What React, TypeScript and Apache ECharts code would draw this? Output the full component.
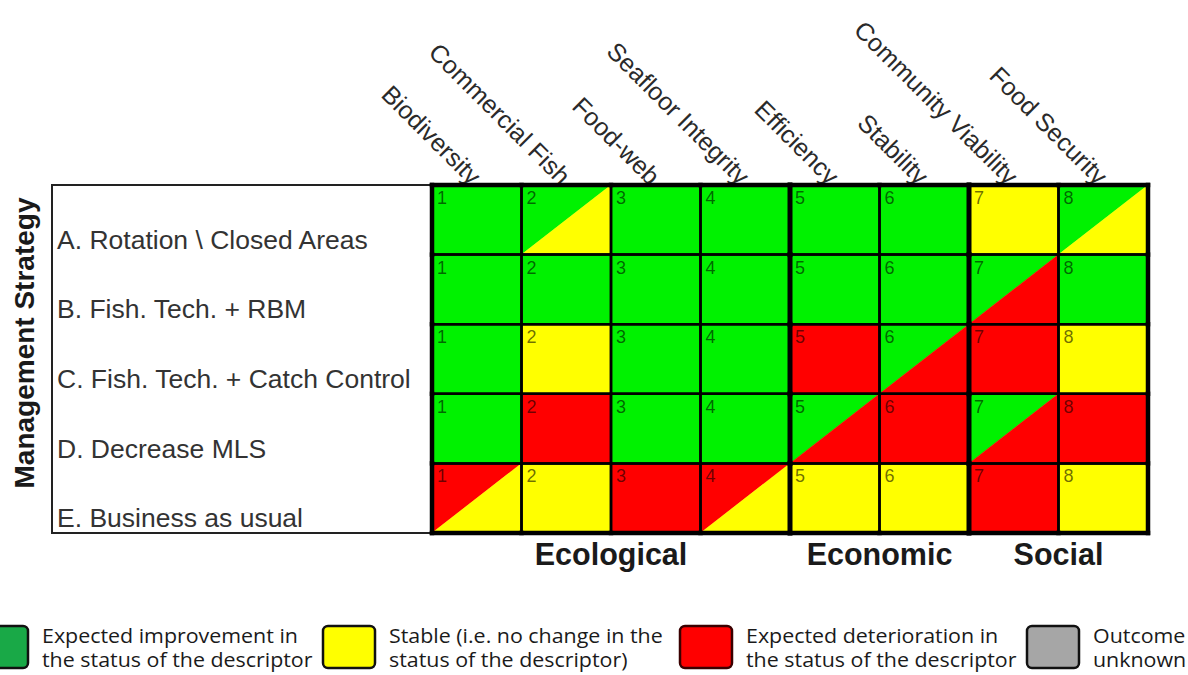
import React, { useEffect, useRef } from "react";
import * as echarts from "echarts";

// ---------- data ----------
const descriptors = [
  "Biodiversity",
  "Commercial Fish",
  "Food-web",
  "Seafloor Integrity",
  "Efficiency",
  "Stability",
  "Community Viability",
  "Food Security",
];

const strategies = [
  "A. Rotation \\ Closed Areas",
  "B. Fish. Tech. + RBM",
  "C. Fish. Tech. + Catch Control",
  "D. Decrease MLS",
  "E. Business as usual",
];

// outcome per cell: "G" improvement, "Y" stable, "R" deterioration, "N" unknown
// "X/Z" = upper-left triangle X, lower-right triangle Z
const rowA = ["G", "G/Y", "G", "G", "G", "G", "Y", "G/Y"];
const rowB = ["G", "G", "G", "G", "G", "G", "G/R", "G"];
const rowC = ["G", "Y", "G", "G", "R", "G/R", "R", "Y"];
const rowD = ["G", "R", "G", "G", "G/R", "R", "G/R", "R"];
const rowE = ["R/Y", "Y", "R", "R/Y", "Y", "Y", "R", "Y"];
const outcomeRows = [rowA, rowB, rowC, rowD, rowE];

const groupNames = ["Ecological", "Economic", "Social"];
const groupCenters = [2, 5, 7];
const groupBoundaries = [4, 6];

const legendLine1 = [
  "Expected improvement in",
  "Stable (i.e. no change in the",
  "Expected deterioration in",
  "Outcome",
];
const legendLine2 = [
  "the status of the descriptor",
  "status of the descriptor)",
  "the status of the descriptor",
  "unknown",
];

// ---------- styles ----------
const cellColors: Record<string, string> = {
  G: "#00f200",
  Y: "#ffff00",
  R: "#ff0000",
  N: "#a6a6a6",
};
const legendColors = ["#19a947", "#ffff00", "#ff0000", "#a6a6a6"];
const legendX = [-24, 323, 680, 1027];
const FONT = "'Liberation Sans', Arial, sans-serif";

const GRID = { left: 432, right: 40, top: 185, bottom: 142 };

export default function App() {
  const ref = useRef<HTMLDivElement>(null);

  useEffect(() => {
    if (!ref.current) return;
    const chart = echarts.init(ref.current, undefined, { renderer: "svg" });

    const cellData: number[][] = [];
    const cellCodes: string[] = [];
    outcomeRows.forEach((row, r) =>
      row.forEach((code, c) => {
        cellData.push([c, r]);
        cellCodes.push(code);
      })
    );

    const renderItem = (params: any, api: any) => {
      const col = api.value(0);
      const row = api.value(1);
      const center = api.coord([col, row]);
      const size = api.size([1, 1]);
      const x0 = center[0] - size[0] / 2;
      const x1 = center[0] + size[0] / 2;
      const y0 = center[1] - size[1] / 2;
      const y1 = center[1] + size[1] / 2;
      const code = cellCodes[params.dataIndex];
      const parts = code.split("/");
      const children: any[] = [];
      if (parts.length === 1) {
        children.push({
          type: "rect",
          z2: 0,
          shape: { x: x0, y: y0, width: x1 - x0, height: y1 - y0 },
          style: { fill: cellColors[parts[0]] },
        });
      } else {
        children.push({
          type: "polygon",
          z2: 0,
          shape: { points: [[x0, y0], [x1, y0], [x0, y1]] },
          style: { fill: cellColors[parts[0]], stroke: cellColors[parts[0]], lineWidth: 0.5 },
        });
        children.push({
          type: "polygon",
          z2: 0,
          shape: { points: [[x1, y0], [x1, y1], [x0, y1]] },
          style: { fill: cellColors[parts[1]], stroke: cellColors[parts[1]], lineWidth: 0.5 },
        });
      }
      children.push({
        type: "rect",
        z2: 1,
        shape: { x: x0, y: y0, width: x1 - x0, height: y1 - y0 },
        style: { fill: "none", stroke: "#000", lineWidth: 2.5 },
      });
      const thick = (xa: number, ya: number, xb: number, yb: number, w: number) =>
        children.push({
          type: "line",
          z2: 2,
          shape: { x1: xa, y1: ya, x2: xb, y2: yb },
          style: { stroke: "#000", lineWidth: w, lineCap: "square" },
        });
      if (col === 0) thick(x0, y0, x0, y1, 4.5);
      if (col === descriptors.length - 1) thick(x1, y0, x1, y1, 4.5);
      if (groupBoundaries.indexOf(col + 1) >= 0) thick(x1, y0, x1, y1, 5);
      if (row === 0) thick(x0, y0, x1, y0, 4.5);
      if (row === strategies.length - 1) thick(x0, y1, x1, y1, 4.5);
      children.push({
        type: "text",
        z2: 3,
        x: x0 + 5,
        y: y0 + 4,
        style: {
          text: String(col + 1),
          fontSize: 18,
          fontFamily: FONT,
          fill: "rgba(0,0,0,0.58)",
          align: "left",
          verticalAlign: "top",
        },
      });
      return { type: "group", children };
    };

    const legendGraphics: any[] = [];
    legendLine1.forEach((line, i) => {
      legendGraphics.push({
        type: "rect",
        shape: { x: legendX[i], y: 626, width: 52, height: 42, r: 5 },
        style: { fill: legendColors[i], stroke: i === 2 ? "#3a0000" : "#111", lineWidth: 2.5 },
      });
      [line, legendLine2[i]].forEach((t, k) =>
        legendGraphics.push({
          type: "text",
          x: legendX[i] + 66,
          y: 635 + k * 24,
          scaleX: 1.07,
          style: {
            text: t,
            fontSize: 20,
            fontFamily: "'Open Sans', sans-serif",
            fill: "#1a1a1a",
            align: "left",
            verticalAlign: "middle",
          },
        })
      );
    });

    const option: any = {
      animation: false,
      backgroundColor: "#ffffff",
      grid: { ...GRID, containLabel: false, outerBoundsMode: "none" },
      xAxis: [
        {
          type: "category",
          position: "top",
          data: descriptors,
          axisLine: { show: false },
          axisTick: { show: false },
          splitLine: { show: false },
          axisLabel: {
            interval: 0,
            rotate: 45,
            margin: 5,
            fontSize: 25,
            fontFamily: FONT,
            color: "#2a2a2a",
            hideOverlap: false,
          },
        },
        {
          type: "value",
          position: "bottom",
          min: 0,
          max: 8,
          interval: 1,
          axisLine: { show: false },
          axisTick: { show: false },
          splitLine: { show: false },
          axisLabel: {
            margin: 5,
            fontSize: 30.5,
            fontWeight: "bold",
            fontFamily: FONT,
            color: "#1a1a1a",
            showMinLabel: true,
            showMaxLabel: true,
            formatter: (v: number) => {
              const idx = groupCenters.indexOf(v);
              return idx >= 0 ? groupNames[idx] : "";
            },
          },
        },
      ],
      yAxis: {
        type: "category",
        inverse: true,
        data: strategies,
        axisLine: { show: false },
        axisTick: { show: false },
        splitLine: { show: false },
        name: "Management Strategy",
        nameLocation: "middle",
        nameRotate: 90,
        nameGap: 394,
        nameTextStyle: {
          fontSize: 28,
          fontWeight: "bold",
          fontFamily: FONT,
          color: "#1a1a1a",
          padding: [0, 0, 0, 32],
        },
        axisLabel: {
          align: "left",
          verticalAlign: "top",
          lineHeight: 40,
          margin: 375,
          fontSize: 26.5,
          fontFamily: FONT,
          color: "#333",
        },
      },
      graphic: [
        {
          type: "rect",
          z: 0,
          shape: { x: 52, y: GRID.top, width: GRID.left - 52, height: 675 - GRID.bottom - GRID.top },
          style: { fill: "none", stroke: "#222", lineWidth: 2 },
        },
        ...legendGraphics,
      ],
      series: [
        {
          type: "custom",
          xAxisIndex: 0,
          yAxisIndex: 0,
          renderItem,
          encode: { x: 0, y: 1 },
          data: cellData,
          z: 3,
        },
      ],
    };

    chart.setOption(option);
    return () => chart.dispose();
  }, []);

  return (
    <div
      ref={ref}
      style={{ position: "fixed", left: 0, top: 0, width: 1188, height: 675, background: "#fff" }}
    />
  );
}
